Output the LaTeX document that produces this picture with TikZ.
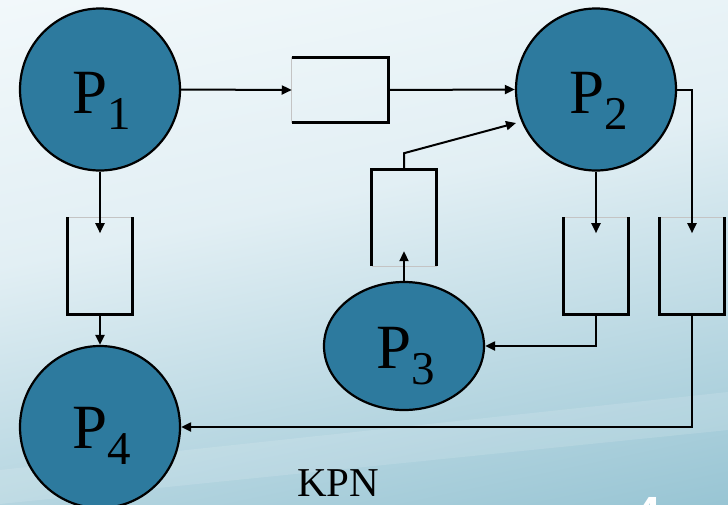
\documentclass[tikz,border=0pt]{standalone}
\usepackage{fontspec}
\setmainfont{Liberation Serif}
\newfontfamily\slidenumfont{Liberation Sans}
\usetikzlibrary{arrows.meta,shapes.geometric,calc}

\definecolor{procfill}{HTML}{2D7A9E}
\definecolor{bgtop}{HTML}{F5FAFC}
\definecolor{bgmid}{HTML}{E2EFF4}
\definecolor{bgbot}{HTML}{80B7C9}
\definecolor{opengray}{HTML}{C4C4C4}

\pgfdeclareverticalshading{slidebg}{100bp}{%
  color(0bp)=(bgbot); color(22bp)=(bgbot!80!bgmid); color(55bp)=(bgmid);
  color(80bp)=(bgtop); color(100bp)=(bgtop)}

% process name: big P with a lowered index
\newcommand\pname[1]{{\fontsize{63}{63}\selectfont P}\raisebox{-16pt}{\fontsize{47}{47}\selectfont #1}}

\begin{document}
\begin{tikzpicture}[x=1pt,y=-1pt,
  proc/.style={ellipse,draw=black,line width=2.2pt,fill=procfill,
    minimum width=160pt,minimum height=162pt,inner sep=0pt},
  plabel/.style={anchor=base west,inner sep=0pt,text=black},
  fifo/.style={rectangle,inner sep=0pt,outer sep=0pt},
  qside/.style={line width=2.6pt,draw=black},
  qopen/.style={line width=1.4pt,draw=opengray},
  flow/.style={line width=2pt,draw=black,-{Triangle[length=10pt,width=9pt]}}]

% slide background
\useasboundingbox (0,0) rectangle (728,504);
\fill[shading=slidebg,shading angle=12] (-40,-40) rectangle (768,544);
\fill[white,opacity=0.13] (0,470) -- (728,392) -- (728,430) -- (0,504) -- cycle;

% processes
\node[proc] (p1) at (100,89.5) {};
\node[proc] (p2) at (596,89.5) {};
\node[proc,minimum height=128pt] (p3) at (404,346) {};
\node[proc] (p4) at (100,427) {};

\node[plabel] (l1) at (72,113) {\pname{1}};
\node[plabel] (l2) at (569,113) {\pname{2}};
\node[plabel] (l3) at (376,368) {\pname{3}};
\node[plabel] (l4) at (72,448) {\pname{4}};

% channels (FIFO queues, open on their input side)
\node[fifo,minimum width=96.5pt,minimum height=65.4pt] (q12) at (340,90) {};
\node[fifo,minimum width=65.5pt,minimum height=97pt] (q14) at (100,265.7) {};
\node[fifo,minimum width=65pt,minimum height=97pt] (q32) at (404,217.7) {};
\node[fifo,minimum width=65.5pt,minimum height=97pt] (q23) at (596,265.7) {};
\node[fifo,minimum width=65.5pt,minimum height=97pt] (q24) at (692,265.7) {};

% q12: open on the left
\draw[qopen] (q12.north west) -- (q12.south west);
\draw[qside] (q12.north west) -- (q12.north east) -- (q12.south east) -- (q12.south west);
% q32: open at the bottom
\draw[qopen] (q32.south west) -- (q32.south east);
\draw[qside] (q32.south west) -- (q32.north west) -- (q32.north east) -- (q32.south east);
% q14, q23, q24: open at the top
\foreach \q in {q14,q23,q24}{
  \draw[qopen] (\q.north west) -- (\q.north east);
  \draw[qside] (\q.north west) -- (\q.south west) -- (\q.south east) -- (\q.north east);
}

% data flow
\draw[flow] (p1.east) -- (q12.west);
\draw[flow] (q12.east) -- (p2.west);

\draw[flow] (p1.south) -- ($(q14.north)+(0,16)$);
\draw[flow] (q14.south) -- (p4.north);

\draw[flow] (p3.north) -- ($(q32.south)+(0,-15)$);
\coordinate (bend32) at ($(q32.north)+(0,-16)$);
\coordinate (into2) at (516,123);
\draw[flow] (q32.north) -- (bend32) -- (into2);

\draw[flow] (p2.south) -- ($(q23.north)+(0,16)$);
\draw[flow] (q23.south) |- (p3.east);

\draw[flow] (p2.east) -| ($(q24.north)+(0,16)$);
\draw[flow] (q24.south) |- (p4.east);

% caption and slide number
\node[anchor=base west,inner sep=0pt,font=\fontsize{41}{41}\selectfont] (kpn) at (297,496) {KPN};
\node[anchor=base west,inner sep=0pt,text=white,font=\slidenumfont\bfseries\fontsize{48}{48}\selectfont] (slideno) at (634,530) {4};
\end{tikzpicture}
\end{document}
